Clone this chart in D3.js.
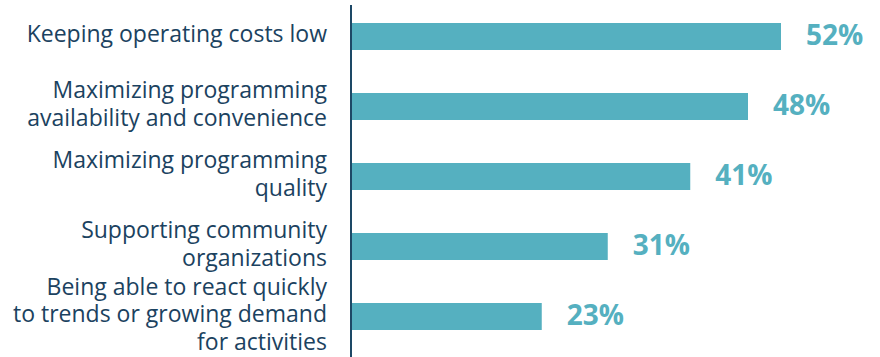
<!DOCTYPE html>
<html>
<head>
<meta charset="utf-8">
<script src="https://cdn.jsdelivr.net/npm/d3@7"></script>
<style>
  html, body { margin: 0; padding: 0; background: #ffffff; }
  svg { display: block; }
</style>
</head>
<body>
<div id="chart"></div>
<script>
const categories = [
  ["Keeping operating costs low"],
  ["Maximizing programming", "availability and convenience"],
  ["Maximizing programming", "quality"],
  ["Supporting community", "organizations"],
  ["Being able to react quickly", "to trends or growing demand", "for activities"]
];
const values = [52, 48, 41, 31, 23];
const valueLabels = ["52%", "48%", "41%", "31%", "23%"];

const W = 880, H = 357;
const axisX = 351;
const barColor = "#55b0c0";
const textColor = "#1b4260";
const axisColor = "#1d4866";

const svg = d3.select("#chart").append("svg")
  .attr("width", W).attr("height", H);

const x = d3.scaleLinear().domain([0, 52]).range([axisX + 1, 781]);
const y = d3.scaleBand().domain(d3.range(values.length))
  .range([1.5, 351.5]).paddingInner(43 / 70).paddingOuter(43 / 140);

// bars
svg.selectAll("rect.bar").data(values).join("rect")
  .attr("class", "bar")
  .attr("x", x(0))
  .attr("y", (d, i) => y(i))
  .attr("width", d => x(d) - x(0))
  .attr("height", y.bandwidth())
  .attr("fill", barColor);

// value labels
svg.selectAll("text.val").data(values).join("text")
  .attr("class", "val")
  .attr("x", d => x(d) + 25)
  .attr("y", (d, i) => y(i) + y.bandwidth() / 2 + 8.5)
  .attr("font-family", "'Open Sans', sans-serif")
  .attr("font-weight", 700)
  .attr("font-size", 28)
  .attr("fill", barColor)
  .text((d, i) => valueLabels[i]);

// category labels
const lineH = 27.5;
const cat = svg.selectAll("text.cat").data(categories).join("text")
  .attr("class", "cat")
  .attr("text-anchor", "end")
  .attr("font-family", "'Open Sans', sans-serif")
  .attr("font-size", 23)
  .attr("fill", textColor);
cat.each(function(lines, i) {
  const cy = y(i) + y.bandwidth() / 2 - 2.5;
  d3.select(this).selectAll("tspan").data(lines).join("tspan")
    .attr("x", 327)
    .attr("y", (l, j) => cy + (j - (lines.length - 1) / 2) * lineH + 8)
    .text(l => l);
});

// axis line
svg.append("line")
  .attr("x1", axisX).attr("x2", axisX)
  .attr("y1", 5).attr("y2", H)
  .attr("stroke", axisColor).attr("stroke-width", 2);
</script>
</body>
</html>
